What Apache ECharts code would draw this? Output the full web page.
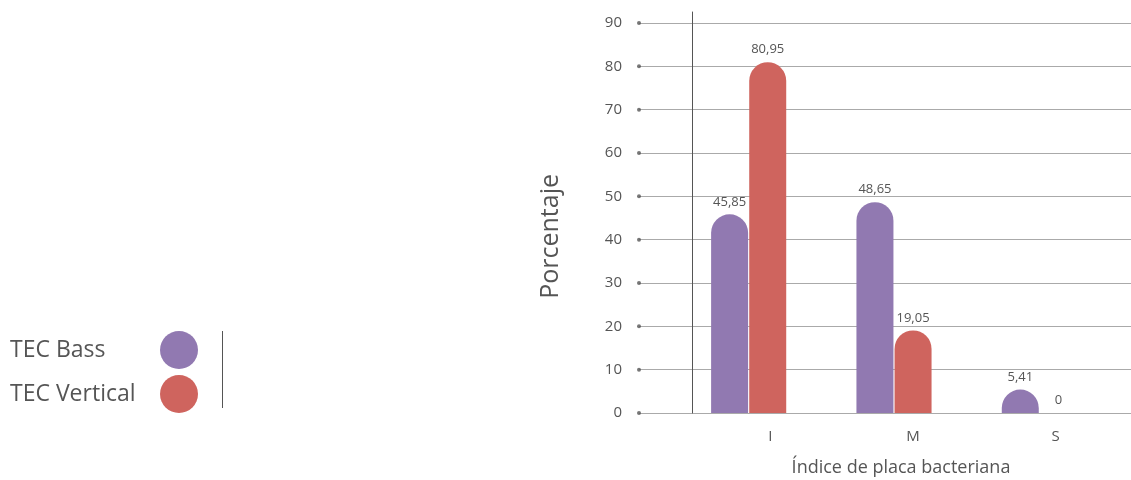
<!DOCTYPE html>
<html><head><meta charset="utf-8">
<script src="https://cdn.jsdelivr.net/npm/echarts@6/dist/echarts.min.js"></script>
<style>html,body{margin:0;padding:0;background:#fff}#c{width:1131px;height:480px}</style>
</head><body><div id="c"></div>
<script>
var categories = ['I', 'M', 'S'];
var tecBass = [45.85, 48.65, 5.41];
var tecVertical = [80.95, 19.05, 0];
var seriesNames = ['TEC Bass', 'TEC Vertical'];
var yTicks = [0, 10, 20, 30, 40, 50, 60, 70, 80, 90];

var FONT = '"Open Sans", sans-serif';
var TXT = '#555';
var chart = echarts.init(document.getElementById('c'));
function fmt(p){ return String(p.value).replace('.', ','); }
var barLabel = {show:true, position:'top', distance:6, fontSize:13, color:TXT, fontFamily:FONT, formatter:fmt};
var G = {outerBoundsMode:'none', containLabel:false};
chart.setOption({
  animation:false,
  textStyle:{fontFamily:FONT},
  legend:{
    data:seriesNames, orient:'vertical', left:5, top:326, itemWidth:38, itemHeight:38, itemGap:6,
    icon:'circle', align:'right', selectedMode:false,
    formatter:function(n){return '{a|'+n+'}';},
    textStyle:{color:TXT, fontSize:23, fontFamily:FONT, width:145,
      rich:{a:{width:145, align:'left', fontSize:23, color:TXT, fontFamily:FONT}}}
  },
  grid:[
    Object.assign({left:639, right:0, top:23, bottom:67}, G),
    Object.assign({left:676, right:19, top:23, bottom:67}, G),
    Object.assign({left:699, right:4, top:23, bottom:67}, G),
    Object.assign({left:692, right:4, top:12, bottom:67}, G)
  ],
  xAxis:[
    {gridIndex:0, type:'value', min:0, max:1, show:false},
    {gridIndex:1, type:'category', data:categories, show:false},
    {gridIndex:2, type:'category', data:categories, axisLine:{show:false}, axisTick:{show:false},
     axisLabel:{color:TXT, fontSize:15, margin:16, fontFamily:FONT},
     name:'Índice de placa bacteriana', nameLocation:'middle', nameGap:46,
     nameTextStyle:{color:TXT, fontSize:18, fontFamily:FONT, padding:[0, 24, 0, 0]}},
    {gridIndex:3, type:'value', min:0, max:1, show:false}
  ],
  yAxis:[
    {gridIndex:0, type:'value', min:0, max:90, interval:10, axisLine:{show:false}, axisTick:{show:false},
     axisLabel:{color:TXT, fontSize:15, margin:17, fontFamily:FONT},
     splitLine:{lineStyle:{color:'#aaa', width:1}}},
    {gridIndex:1, type:'value', min:0, max:90, show:false, splitLine:{show:false}},
    {gridIndex:2, type:'value', min:0, max:90, show:false, splitLine:{show:false}},
    {gridIndex:3, type:'value', min:0, max:1, axisLabel:{show:false}, axisTick:{show:false},
     splitLine:{show:false}, axisLine:{show:true, lineStyle:{color:'#555', width:1}}}
  ],
  graphic:[
    {type:'text', left:538, top:174, rotation:Math.PI/2,
     style:{text:'Porcentaje', fontSize:25, fill:TXT, fontFamily:FONT}},
    {type:'line', shape:{x1:222.5, y1:331, x2:222.5, y2:408}, style:{stroke:'#555', lineWidth:1}}
  ],
  series:[
    {type:'scatter', xAxisIndex:0, yAxisIndex:0, symbolSize:4, itemStyle:{color:'#555'}, silent:true,
     data:yTicks.map(function(v){return [0, v];})},
    {name:seriesNames[0], type:'bar', xAxisIndex:1, yAxisIndex:1, data:tecBass, barWidth:37, barGap:'3%',
     itemStyle:{color:'#9179b1', borderRadius:[18.5,18.5,0,0]}, label:barLabel},
    {name:seriesNames[1], type:'bar', xAxisIndex:1, yAxisIndex:1, data:tecVertical, barWidth:37, barGap:'3%',
     itemStyle:{color:'#cf645e', borderRadius:[18.5,18.5,0,0]}, label:barLabel}
  ]
});
</script></body></html>
